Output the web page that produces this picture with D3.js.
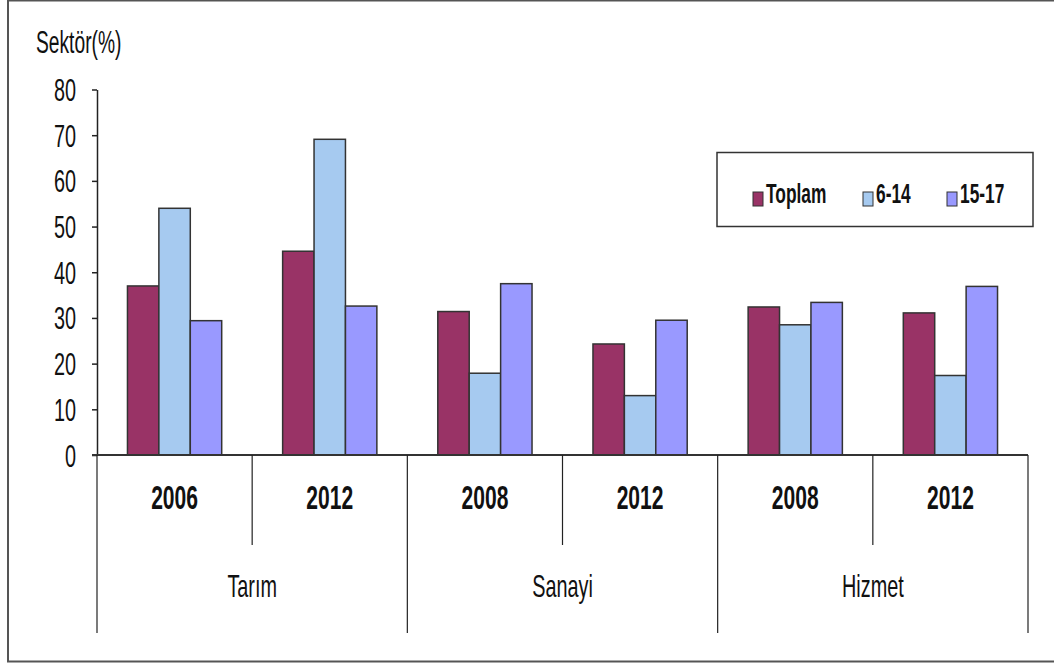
<!DOCTYPE html>
<html>
<head>
<meta charset="utf-8">
<script src="https://cdn.jsdelivr.net/npm/d3@7"></script>
<style>
  body { margin: 0; background: #fff; }
  svg text { font-family: "Liberation Sans", Arial, sans-serif; fill: #111; }
</style>
</head>
<body>
<div id="container"></div>
<script>
const sectors = ["Tarım", "Sanayi", "Hizmet"];
const years = [["2006", "2012"], ["2008", "2012"], ["2008", "2012"]];
const series = ["Toplam", "6-14", "15-17"];
const colors = ["#993366", "#a6caf0", "#9999ff"];
// one row per sector/year, in series order
const values = [
    [37.0, 54.0, 29.4],
    [44.6, 69.1, 32.6],
    [31.4, 17.9, 37.5],
    [24.3, 13.0, 29.5],
    [32.4, 28.5, 33.4],
    [31.1, 17.4, 36.9]
];
const yTicks = [0, 10, 20, 30, 40, 50, 60, 70, 80];

const W = 1054, H = 663;
const sx = 0.62; // text in the picture is squeezed sideways

const svg = d3.select("#container").append("svg")
    .attr("width", W)
    .attr("height", H);

// outer frame
svg.append("rect")
    .attr("x", 8).attr("y", 0.5)
    .attr("width", W).attr("height", 661)
    .attr("fill", "none")
    .attr("stroke", "#555")
    .attr("stroke-width", 2);

const rows = [];
sectors.forEach((s, i) => years[i].forEach((yr, j) => rows.push({sector: s, year: yr, key: s + "|" + yr + "|" + j})));

const x = d3.scaleBand().domain(rows.map(d => d.key)).range([97, 1028]);
const xs = d3.scaleBand().domain(series).range([0, x.bandwidth()]).paddingOuter(0.97);
const y = d3.scaleLinear().domain([0, 80]).range([455, 89.5]);

function label(g, tx, ty, txt, size, weight, anchor) {
    g.append("g")
        .attr("transform", `translate(${tx},${ty})`)
        .append("text")
        .attr("transform", `scale(${sx},1)`)
        .attr("text-anchor", anchor || "middle")
        .style("font-size", size + "px")
        .style("font-weight", weight || "normal")
        .text(txt);
}

// y axis
const yAxis = svg.append("g")
    .attr("transform", "translate(97,0)")
    .call(d3.axisLeft(y).tickValues(yTicks).tickSize(5).tickSizeOuter(0).tickFormat(""));
yAxis.select(".domain").attr("stroke", "#222").attr("stroke-width", 1.5);
yAxis.selectAll(".tick line").attr("stroke", "#222").attr("stroke-width", 1.5);
yTicks.forEach(t => label(svg, 76, y(t) + 11.5, t, 32, "normal", "end"));

label(svg, 36, 53, "Sektör(%)", 31, "normal", "start");

// bars
const groups = svg.selectAll(".grp")
    .data(rows)
    .enter().append("g")
    .attr("transform", d => `translate(${x(d.key)},0)`);

groups.selectAll("rect")
    .data((d, i) => values[i].map((v, k) => ({s: series[k], v: v, c: colors[k]})))
    .enter().append("rect")
    .attr("x", d => xs(d.s))
    .attr("y", d => y(d.v))
    .attr("width", xs.bandwidth())
    .attr("height", d => y(0) - y(d.v))
    .attr("fill", d => d.c)
    .attr("stroke", "#333")
    .attr("stroke-width", 1.5);

// category axis
svg.append("line")
    .attr("x1", 92).attr("x2", 1028)
    .attr("y1", y(0)).attr("y2", y(0))
    .attr("stroke", "#333").attr("stroke-width", 2);

const edges = rows.map(d => x(d.key)).concat([x.range()[1]]);
edges.forEach((ex, i) => {
    svg.append("line")
        .attr("x1", ex).attr("x2", ex)
        .attr("y1", y(0)).attr("y2", i % 2 === 0 ? 633 : 545)
        .attr("stroke", "#222").attr("stroke-width", 1.2);
});

rows.forEach(d => label(svg, x(d.key) + x.bandwidth() / 2, 508.5, d.year, 34, "bold"));
sectors.forEach((s, i) => {
    const cx = x(rows[i * 2].key) + x.bandwidth();
    label(svg, cx, 597, s, 32, "normal");
});

// legend
const lg = svg.append("g");
lg.append("rect")
    .attr("x", 717).attr("y", 152.5)
    .attr("width", 316).attr("height", 74)
    .attr("fill", "#fff")
    .attr("stroke", "#333").attr("stroke-width", 1.5);
const legendX = d3.scaleOrdinal().domain(series).range([753, 863, 947]);
series.forEach((s, k) => {
    lg.append("rect")
        .attr("x", legendX(s)).attr("y", 192)
        .attr("width", 10).attr("height", 14)
        .attr("fill", colors[k])
        .attr("stroke", "#333").attr("stroke-width", 1);
    label(lg, legendX(s) + 13, 203, s, 28, "bold", "start");
});
</script>
</body>
</html>
